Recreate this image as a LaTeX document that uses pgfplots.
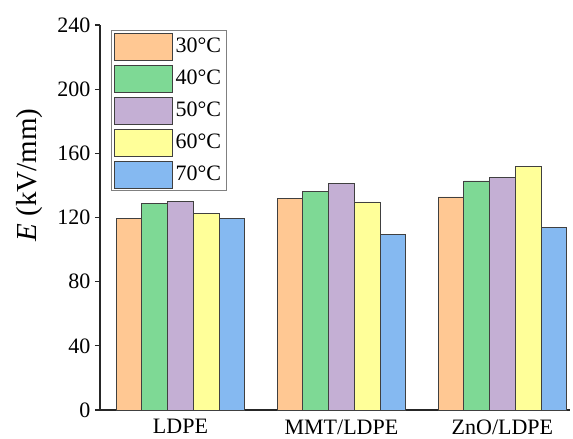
\documentclass[border=0pt]{standalone}
\usepackage{fontspec}
\setmainfont{Liberation Serif}
\usepackage{pgfplots}
\pgfplotsset{compat=1.18}
\usetikzlibrary{calc}

\definecolor{c30}{HTML}{FFC893}
\definecolor{c40}{HTML}{7ED995}
\definecolor{c50}{HTML}{C4AFD4}
\definecolor{c60}{HTML}{FFFF99}
\definecolor{c70}{HTML}{85B9F1}
\definecolor{edge}{HTML}{404040}

% breakdown strength E (kV/mm) per sample, one column per temperature
\pgfplotstableread{
x  t30    t40    t50    t60    t70
0  119.5  129.0  130.0  122.5  119.2
1  132.0  136.2  141.5  129.7  109.5
2  132.8  142.8  145.2  152.0  113.7
}\bdtable

\begin{document}
\begin{tikzpicture}
\begin{axis}[
  scale only axis,
  width=470pt, height=385pt,
  ybar=0pt, bar width=0.16,
  xmin=-0.5, xmax=2.42,
  ymin=0, ymax=240,
  ytick={0,40,...,240},
  xtick=data,
  xticklabels={LDPE, MMT/LDPE, ZnO/LDPE},
  axis x line*=bottom, axis y line*=left,
  axis line style={line width=1.2pt, black!85},
  x axis line style={-}, y axis line style={-},
  tick align=outside,
  major tick length=5pt,
  ytick style={line width=1.2pt, black!85},
  xtick style={draw=none},
  minor tick num=0,
  /pgf/number format/assume math mode=true,
  tick label style={font=\fontsize{22}{22}\selectfont},
  yticklabel style={xshift=-1pt},
  xticklabel style={yshift=-1pt},
  ylabel={\textit{E} (kV/mm)},
  ylabel style={font=\fontsize{29}{29}\selectfont, at={(axis description cs:-0.150,0.61)}, anchor=center},
  every axis plot/.append style={draw=edge, line width=0.8pt},
  legend cell align=left,
  legend image code/.code={\draw[#1] (0pt,-13.5pt) rectangle (58pt,13.5pt);},
  legend style={at={(axis description cs:0.024,0.987)}, anchor=north west,
    draw=black!50, line width=1pt, font=\fontsize{22}{22}\selectfont,
    inner xsep=2pt, inner ysep=2pt, row sep=4.2pt,
    nodes={inner xsep=3pt}},
]
\addplot[fill=c30] table[x=x, y=t30] {\bdtable};
\addplot[fill=c40] table[x=x, y=t40] {\bdtable};
\addplot[fill=c50] table[x=x, y=t50] {\bdtable};
\addplot[fill=c60] table[x=x, y=t60] {\bdtable};
\addplot[fill=c70] table[x=x, y=t70] {\bdtable};
\legend{30°C, 40°C, 50°C, 60°C, 70°C}
\end{axis}
\path ($(current axis.south west)+(-100pt,-29pt)$) rectangle ($(current axis.north east)+(3pt,25pt)$);
\end{tikzpicture}
\end{document}
